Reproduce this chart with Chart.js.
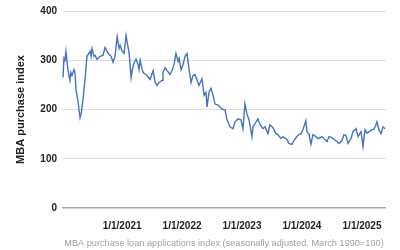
<!DOCTYPE html>
<html>
<head>
<meta charset="utf-8">
<script src="https://cdn.jsdelivr.net/npm/chart.js@4/dist/chart.umd.min.js"></script>
<style>
  html, body { margin: 0; padding: 0; background: #fff; }
</style>
</head>
<body>
<canvas id="chart" width="400" height="250"></canvas>
<script>
// weekly readings (not every week, but the visible turns)
const dates = [
  "2020-01-07","2020-01-13","2020-01-19","2020-01-25","2020-02-06","2020-02-18","2020-02-24","2020-03-02",
  "2020-03-14","2020-03-20","2020-03-26","2020-04-08","2020-04-20","2020-04-26","2020-05-08","2020-05-20",
  "2020-06-01","2020-06-20","2020-06-26","2020-07-02","2020-07-14","2020-07-20","2020-08-01","2020-08-20",
  "2020-09-07","2020-09-19","2020-10-08","2020-10-26","2020-11-07","2020-11-19","2020-12-02","2020-12-14",
  "2020-12-20","2021-01-02","2021-01-13","2021-01-25","2021-01-31","2021-02-13","2021-02-25","2021-03-03",
  "2021-03-15","2021-03-27","2021-04-08","2021-04-14","2021-04-21","2021-05-03","2021-05-09","2021-05-21",
  "2021-06-02","2021-06-20","2021-07-09","2021-07-21","2021-08-02","2021-08-14","2021-09-01","2021-09-07",
  "2021-09-20","2021-10-02","2021-10-20","2021-11-01","2021-11-13","2021-11-25","2021-12-08","2021-12-14",
  "2021-12-26","2022-01-07","2022-01-19","2022-01-31","2022-02-13","2022-02-25","2022-03-09","2022-03-21",
  "2022-04-02","2022-04-14","2022-05-03","2022-05-15","2022-05-27","2022-06-02","2022-06-14","2022-06-26",
  "2022-07-09","2022-07-21","2022-08-08","2022-09-01","2022-09-20","2022-10-02","2022-10-20","2022-11-07",
  "2022-11-20","2022-12-08","2022-12-26","2023-01-07","2023-01-19","2023-01-31","2023-02-13","2023-03-03",
  "2023-03-09","2023-03-21","2023-04-08","2023-04-21","2023-05-09","2023-05-21","2023-06-08","2023-06-20",
  "2023-07-09","2023-07-27","2023-08-08","2023-08-26","2023-09-07","2023-10-02","2023-10-14","2023-11-01",
  "2023-11-13","2023-12-02","2023-12-14","2023-12-26","2024-01-07","2024-01-25","2024-02-01","2024-02-13",
  "2024-02-25","2024-03-08","2024-03-26","2024-04-08","2024-05-02","2024-05-14","2024-06-02","2024-06-14",
  "2024-07-02","2024-07-14","2024-08-02","2024-08-14","2024-09-01","2024-09-13","2024-09-25","2024-10-08",
  "2024-10-26","2024-11-07","2024-11-25","2024-12-08","2024-12-26","2025-01-07","2025-01-19","2025-01-31",
  "2025-02-13","2025-03-03","2025-03-15","2025-03-27","2025-04-02","2025-04-14","2025-04-27","2025-05-09",
  "2025-05-21"
];
const purchaseIndex = [
  265, 304, 300, 318, 281, 259, 275, 269,
  281, 275, 241, 215, 183, 190, 221, 261,
  308, 318, 308, 324, 308, 310, 302, 308,
  310, 326, 314, 308, 296, 308, 348, 324,
  330, 318, 314, 350, 338, 314, 265, 279,
  295, 302, 291, 281, 300, 281, 275, 272,
  269, 261, 279, 255, 249, 255, 259, 275,
  285, 279, 271, 279, 291, 314, 298, 304,
  281, 291, 308, 314, 281, 255, 269, 271,
  260, 249, 262, 229, 235, 205, 235, 243,
  229, 211, 209, 201, 199, 179, 165, 161,
  175, 181, 179, 161, 211, 191, 179, 145,
  165, 171, 181, 169, 161, 165, 151, 169,
  163, 151, 149, 141, 145, 139, 131, 129,
  137, 145, 149, 151, 159, 177, 155, 150,
  129, 149, 145, 141, 145, 141, 135, 145,
  143, 139, 135, 131, 137, 149, 147, 131,
  141, 155, 161, 145, 155, 125, 159, 152,
  155, 159, 160, 169, 175, 159, 151, 165,
  161
];
const yearTicks = [2021, 2022, 2023, 2024, 2025];
const xStart = "2020-01-01";
const xEnd = "2025-05-27";
const yTicks = [0, 100, 200, 300, 400];

const points = dates.map((d, i) => ({ x: Date.parse(d), y: purchaseIndex[i] }));

const fmtDate = (v) => {
  const d = new Date(v);
  return (d.getUTCMonth() + 1) + "/" + d.getUTCDate() + "/" + d.getUTCFullYear();
};

new Chart(document.getElementById("chart").getContext("2d"), {
  type: "line",
  data: {
    datasets: [{
      data: points,
      borderColor: "#4472c4",
      borderWidth: 1.4,
      pointRadius: 0,
      tension: 0,
      fill: false
    }]
  },
  options: {
    responsive: false,
    animation: false,
    devicePixelRatio: 1,
    layout: { padding: { left: 14, right: 14, top: 7, bottom: 0 } },
    plugins: { legend: { display: false }, tooltip: { enabled: false } },
    scales: {
      x: {
        type: "linear",
        min: Date.parse(xStart),
        max: Date.parse(xEnd),
        afterBuildTicks: (scale) => {
          scale.ticks = yearTicks.map(y => ({ value: Date.UTC(y, 0, 1) }));
        },
        afterFit: (scale) => { scale.height = 42; },
        grid: { display: false },
        border: { display: false },
        ticks: {
          autoSkip: false,
          maxRotation: 0,
          padding: 4,
          color: "#222",
          font: { family: "Liberation Sans, Arial", size: 10, weight: "bold" },
          callback: (v) => fmtDate(v)
        },
        title: {
          display: true,
          text: "MBA purchase loan applications index (seasonally adjusted, March 1990=100)",
          color: "#a0a0a0",
          padding: { top: 0, bottom: 1 },
          font: { family: "Liberation Sans, Arial", size: 9.2 }
        }
      },
      y: {
        min: 0,
        max: 400,
        afterBuildTicks: (scale) => {
          scale.ticks = yTicks.map(v => ({ value: v }));
        },
        afterFit: (scale) => { scale.width = 48; },
        border: { display: false },
        grid: {
          drawTicks: false,
          color: (c) => c.tick.value === 0 ? "#aaa" : "#ddd",
          lineWidth: (c) => c.tick.value === 0 ? 1.5 : 1
        },
        ticks: {
          padding: 5,
          color: "#222",
          font: { family: "Liberation Sans, Arial", size: 10, weight: "bold" }
        },
        title: {
          display: true,
          text: "MBA purchase index",
          color: "#222",
          padding: { top: 0, bottom: 6 },
          font: { family: "Liberation Sans, Arial", size: 11, weight: "bold" }
        }
      }
    }
  }
});
</script>
</body>
</html>
